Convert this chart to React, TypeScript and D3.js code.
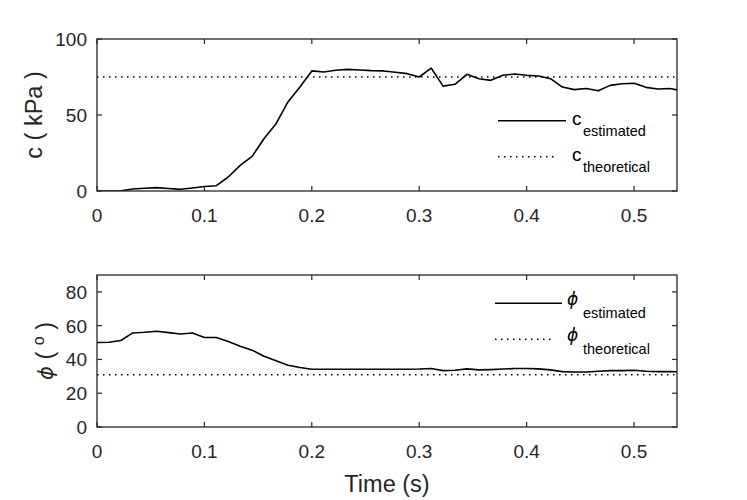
import { useEffect, useRef } from 'react'
import * as d3 from 'd3'

// sample times (s)
const time = [
  0, 0.0111, 0.0222, 0.0333, 0.0444, 0.0556, 0.0667, 0.0778, 0.0889, 0.1,
  0.1111, 0.1222, 0.1333, 0.1444, 0.1556, 0.1667, 0.1778, 0.1889, 0.2, 0.2111,
  0.2222, 0.2333, 0.2444, 0.2556, 0.2667, 0.2778, 0.2889, 0.3, 0.3111, 0.3222,
  0.3333, 0.3444, 0.3556, 0.3667, 0.3778, 0.3889, 0.4, 0.4111, 0.4222, 0.4333,
  0.4444, 0.4556, 0.4667, 0.4778, 0.4889, 0.5, 0.5111, 0.5222, 0.5333, 0.5444
]

// cohesion estimate (kPa)
const cEstimated = [
  0, 0, 0.2, 1.3, 1.8, 2.2, 1.6, 1.1, 2.0, 3.0,
  3.5, 9.2, 16.9, 22.8, 34.5, 44.3, 58.6, 68.4, 79, 78.3,
  79.4, 80, 79.6, 79.2, 79, 78.1, 77.2, 75, 80.9, 69,
  70.2, 76.8, 73.9, 72.8, 76.1, 77, 76.1, 75.7, 73.9, 68.4,
  66.7, 67.4, 66, 69.5, 70.6, 70.9, 68.2, 67.1, 67.4, 66
]

// friction angle estimate (deg)
const phiEstimated = [
  50, 50.2, 51.2, 55.7, 56.1, 56.7, 55.9, 55.1, 55.7, 53,
  53, 50.6, 47.8, 45.5, 41.9, 39.3, 36.6, 35.2, 34.2, 34.2,
  34.2, 34.2, 34.2, 34.2, 34.2, 34.2, 34.2, 34.3, 34.6, 33.4,
  33.6, 34.4, 33.8, 34.0, 34.3, 34.6, 34.6, 34.4, 33.8, 32.8,
  32.6, 32.6, 33.0, 33.4, 33.4, 33.6, 33.0, 32.8, 32.8, 32.6
]

const cTheoretical = 75
const phiTheoretical = 31

const xTicks = [0, 0.1, 0.2, 0.3, 0.4, 0.5]
const cTicks = [0, 50, 100]
const phiTicks = [0, 20, 40, 60, 80]

const FONT = '"Liberation Sans", Arial, Helvetica, sans-serif'
const GREEK = '"DejaVu Sans", sans-serif'
const INK = '#262626'

export default function App() {
  const svgRef = useRef<SVGSVGElement>(null)

  useEffect(() => {
    if (!svgRef.current) return
    const svg = d3.select(svgRef.current)
    svg.selectAll('*').remove()

    const x = d3.scaleLinear().domain([0, 0.54]).range([97, 677])
    const defs = svg.append('defs')

    const panel = (id: string, top: number, bottom: number, yMax: number, yTicks: number[], values: number[], theory: number) => {
      const y = d3.scaleLinear().domain([0, yMax]).range([bottom, top])
      const g = svg.append('g')

      defs.append('clipPath').attr('id', id)
        .append('rect')
        .attr('x', x.range()[0]).attr('y', top)
        .attr('width', x.range()[1] - x.range()[0]).attr('height', bottom - top)

      const plot = g.append('g').attr('clip-path', `url(#${id})`)

      // theoretical value
      plot.append('line')
        .attr('x1', x.range()[0]).attr('x2', x.range()[1])
        .attr('y1', y(theory)).attr('y2', y(theory))
        .attr('stroke', '#000').attr('stroke-width', 1.5)
        .attr('stroke-dasharray', '1.5,4.5')

      // estimate
      const line = d3.line<number>()
        .x((_, i) => x(time[i]))
        .y(d => y(d))
      plot.append('path')
        .attr('d', line(values) || '')
        .attr('fill', 'none')
        .attr('stroke', '#000')
        .attr('stroke-width', 1.6)
        .attr('stroke-linejoin', 'round')

      // box
      g.append('rect')
        .attr('x', x.range()[0]).attr('y', top)
        .attr('width', x.range()[1] - x.range()[0]).attr('height', bottom - top)
        .attr('fill', 'none').attr('stroke', INK).attr('stroke-width', 1.3)

      // ticks, inward on all four sides
      const tl = 5
      xTicks.forEach(t => {
        g.append('line').attr('x1', x(t)).attr('x2', x(t)).attr('y1', bottom).attr('y2', bottom - tl)
          .attr('stroke', INK).attr('stroke-width', 1.2)
        g.append('line').attr('x1', x(t)).attr('x2', x(t)).attr('y1', top).attr('y2', top + tl)
          .attr('stroke', INK).attr('stroke-width', 1.2)
        g.append('text')
          .attr('x', x(t)).attr('y', bottom + 31)
          .attr('text-anchor', 'middle')
          .style('font-family', FONT).style('font-size', '19px').style('fill', INK)
          .text(String(t))
      })
      yTicks.forEach(t => {
        g.append('line').attr('x1', x.range()[0]).attr('x2', x.range()[0] + tl).attr('y1', y(t)).attr('y2', y(t))
          .attr('stroke', INK).attr('stroke-width', 1.2)
        g.append('line').attr('x1', x.range()[1]).attr('x2', x.range()[1] - tl).attr('y1', y(t)).attr('y2', y(t))
          .attr('stroke', INK).attr('stroke-width', 1.2)
        g.append('text')
          .attr('x', x.range()[0] - 10).attr('y', y(t) + 7)
          .attr('text-anchor', 'end')
          .style('font-family', FONT).style('font-size', '19px').style('fill', INK)
          .text(String(t))
      })
      return g
    }

    const top = panel('clip-c', 39, 191, 100, cTicks, cEstimated, cTheoretical)
    const bottom = panel('clip-phi', 275, 427, 90, phiTicks, phiEstimated, phiTheoretical)

    // y labels
    top.append('text')
      .attr('transform', 'translate(42,115) rotate(-90)')
      .attr('text-anchor', 'middle')
      .style('font-family', FONT).style('font-size', '23.5px').style('fill', INK)
      .text('c ( kPa )')

    const phiLabel = bottom.append('text')
      .attr('transform', 'translate(53,351) rotate(-90)')
      .attr('text-anchor', 'middle')
      .style('font-family', FONT).style('font-size', '23.5px').style('fill', INK)
    phiLabel.append('tspan').style('font-family', GREEK).style('font-style', 'italic')
      .style('font-weight', '300').style('font-size', '21px').text('\u03D5')
    phiLabel.append('tspan').text(' ( ')
    phiLabel.append('tspan').attr('dy', -9).style('font-size', '16px').text('o')
    phiLabel.append('tspan').attr('dy', 9).text(' )')

    // x label
    svg.append('text')
      .attr('x', 387).attr('y', 492)
      .attr('text-anchor', 'middle')
      .style('font-family', FONT).style('font-size', '23.5px').style('fill', INK)
      .text('Time (s)')

    // legends
    const legend = (g: d3.Selection<SVGGElement, unknown, null, undefined>, items: Array<{ sym: string; greek: boolean; sub: string; dashed: boolean; ly: number; x0: number; x1: number }>) => {
      items.forEach(it => {
        g.append('line')
          .attr('x1', it.x0).attr('x2', it.x1)
          .attr('y1', it.ly).attr('y2', it.ly)
          .attr('stroke', '#000')
          .attr('stroke-width', it.dashed ? 1.5 : 1.6)
          .attr('stroke-dasharray', it.dashed ? '1.5,4.5' : null)
        g.append('text')
          .attr('x', it.greek ? 567 : 572).attr('y', it.ly + (it.greek ? 2 : 4.5))
          .style('font-family', it.greek ? GREEK : FONT).style('font-size', it.greek ? '17px' : '19px')
          .style('font-style', it.greek ? 'italic' : 'normal').style('fill', '#000')
          .text(it.sym)
        g.append('text')
          .attr('x', 583).attr('y', it.ly + 15)
          .style('font-family', FONT).style('font-size', '14.5px').style('fill', '#000')
          .text(it.sub)
      })
    }

    legend(top, [
      { sym: 'c', greek: false, sub: 'estimated', dashed: false, ly: 120.7, x0: 498, x1: 566 },
      { sym: 'c', greek: false, sub: 'theoretical', dashed: true, ly: 156.7, x0: 498, x1: 558 }
    ])
    legend(bottom, [
      { sym: '\u03D5', greek: true, sub: 'estimated', dashed: false, ly: 303.3, x0: 495, x1: 562 },
      { sym: '\u03D5', greek: true, sub: 'theoretical', dashed: true, ly: 339.3, x0: 495, x1: 555 }
    ])
  }, [])

  return (
    <div style={{ position: 'absolute', left: 0, top: 0 }}>
      <svg ref={svgRef} width={747} height={500} style={{ display: 'block', background: '#fff' }} />
    </div>
  )
}
